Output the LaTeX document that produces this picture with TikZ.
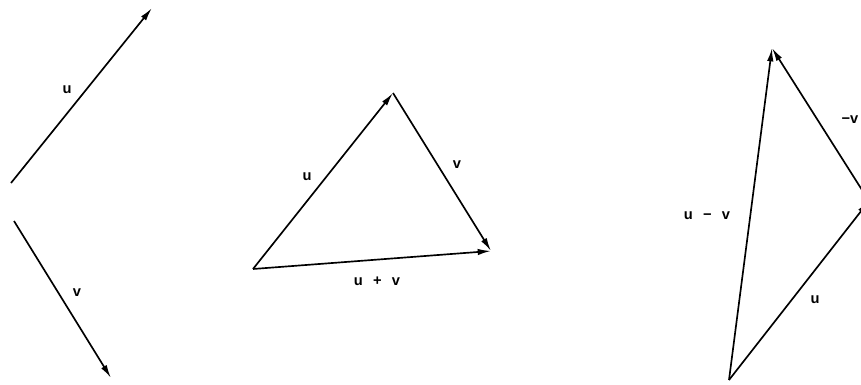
\documentclass[tikz,border=0pt]{standalone}
\usepackage{fontspec}
\setmainfont{Liberation Sans}
\usetikzlibrary{arrows.meta}

\begin{document}
\begin{tikzpicture}[
  x=0.75pt,y=-0.75pt,
  every node/.style={font=\fontsize{11}{13}\selectfont\bfseries,inner sep=0pt},
  vec/.style={line width=1.25pt,-{Latex[length=10pt,width=4.8pt]}},
]
  \useasboundingbox (0,0) rectangle (861,385);
  \clip (0,0) rectangle (861,385);

  % single vectors
  \coordinate (ua) at (11,183);
  \coordinate (ub) at (152,8);
  \coordinate (va) at (14,221);
  \coordinate (vb) at (111,378);
  \draw[vec] (ua) -- (ub);
  \draw[vec] (va) -- (vb);
  \node (ulbl) at (67,90) {u};
  \node (vlbl) at (77,293) {v};

  % sum triangle
  \coordinate (sa) at (253,269);
  \coordinate (sb) at (393,93);
  \coordinate (sc) at (491,251);
  \draw[vec] (sa) -- (sb);
  \draw[vec] (sb) -- (sc);
  \draw[vec] (sa) -- (sc);
  \node (sulbl) at (307,177) {u};
  \node (svlbl) at (457,165) {v};
  \node (sumlbl) at (377,281) {u\hspace{0.7em}+\hspace{0.7em}v};

  % difference triangle
  \coordinate (da) at (729,380);
  \coordinate (db) at (772,48);
  \coordinate (dc) at (869,201);
  \draw[vec] (da) -- (dc);
  \draw[vec] (dc) -- (db);
  \draw[vec] (da) -- (db);
  \node (dulbl) at (815,300) {u};
  \node (dvlbl) at (850,120) {−v};
  \node (difflbl) at (707,216) {u\hspace{0.7em}−\hspace{0.7em}v};
\end{tikzpicture}
\end{document}
